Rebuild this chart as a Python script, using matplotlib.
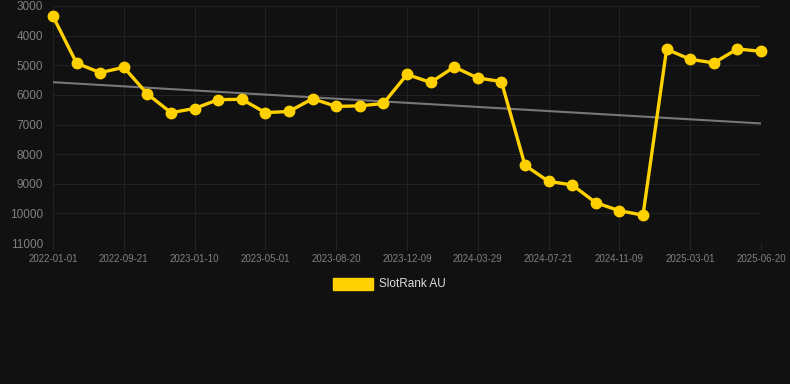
import matplotlib
matplotlib.use("Agg")
import matplotlib.pyplot as plt
import numpy as np
from matplotlib.patches import Rectangle

plt.rcParams['font.family'] = ['Liberation Sans', 'DejaVu Sans']

dates = ["2022-01-01", "", "", "2022-09-21", "", "", "2023-01-10", "", "", "2023-05-01",
         "", "", "2023-08-20", "", "", "2023-12-09", "", "", "2024-03-29", "", "",
         "2024-07-21", "", "", "2024-11-09", "", "", "2025-03-01", "", "", "2025-06-20"]
rank = [3350, 4930, 5250, 5070, 5970, 6600, 6460, 6160, 6150, 6600, 6560,
        6130, 6390, 6370, 6290, 5310, 5580, 5060, 5430, 5550, 8380, 8920,
        9040, 9640, 9910, 10060, 4460, 4800, 4920, 4450, 4530]
yticks = [3000, 4000, 5000, 6000, 7000, 8000, 9000, 10000, 11000]
series_name = "SlotRank AU"

bg = "#111111"
fig = plt.figure(figsize=(7.9, 3.84), dpi=100, facecolor=bg)
ax = fig.add_axes([53/790, 1-243/384, (761-53)/790, (243-6)/384], facecolor=bg)

x = np.arange(len(rank))
coef = np.polyfit(x, rank, 1)
trend = np.polyval(coef, x)
ax.plot(x, trend, color="#777777", lw=1.5, zorder=2)
ax.plot(x, rank, color="#FFD100", lw=2.4, marker="o", markersize=7.5, zorder=3,
        clip_on=False)

ax.set_xlim(0, len(rank)-1)
ax.set_ylim(11000, 3000)
ax.set_yticks(yticks)
ax.set_yticklabels([str(v) for v in yticks])
tick_idx = [i for i, d in enumerate(dates) if d]
ax.set_xticks(tick_idx)
ax.set_xticklabels([dates[i] for i in tick_idx])
ax.grid(True, color="#222222", lw=0.8)
ax.set_axisbelow(True)
for s in ax.spines.values():
    s.set_visible(False)
ax.tick_params(axis="y", labelcolor="#808080", labelsize=8.5, length=0, pad=7)
ax.tick_params(axis="x", labelcolor="#808080", color="#262626", labelsize=7,
               length=5, width=0.8, pad=3)

# legend
fig.patches.append(Rectangle((333/790, 1-290/384), 40/790, 12/384,
                             transform=fig.transFigure, color="#FFD100"))
fig.text(379/790, 1-284/384, series_name, color="#dddddd", fontsize=8.5,
         va="center", ha="left")

fig.savefig("out.png", dpi=100, facecolor=bg)
